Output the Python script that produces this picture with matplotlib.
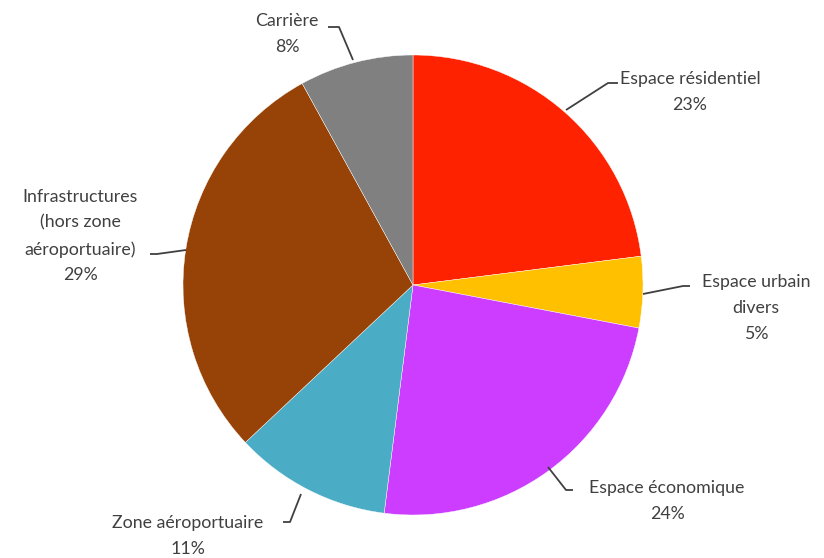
import matplotlib
matplotlib.use("Agg")
import matplotlib.pyplot as plt

categories = ["Espace résidentiel", "Espace urbain\ndivers", "Espace économique",
              "Zone aéroportuaire", "Infrastructures\n(hors zone\naéroportuaire)", "Carrière"]
values = [23, 5, 24, 11, 29, 8]
colors = ["#FF2200", "#FFC000", "#CC3DFF", "#4BACC6", "#974206", "#808080"]

W, H = 824, 558
CX, CY, R = 413, 285, 230

plt.rcParams['font.family'] = ['Lato', 'DejaVu Sans']
fig = plt.figure(figsize=(W / 100, H / 100), dpi=100)
ax = fig.add_axes([0, 0, 1, 1])

ax.pie(values, colors=colors, startangle=90, counterclock=False, radius=1,
       center=(0, 0), wedgeprops=dict(linewidth=0.3, edgecolor='white'))

ax.set_xlim(-CX / R, (W - CX) / R)
ax.set_ylim(-(H - CY) / R, CY / R)
ax.set_aspect('equal')
ax.axis('off')

def p(x, y):
    return ((x - CX) / R, (CY - y) / R)

# label text centers (pixels) and leader line polylines (pixels)
label_pos = [(690, 92), (756, 308), (667, 501), (188, 536), (80, 236), (287, 34)]
leaders = [
    [(566, 110), (608, 83), (618, 83)],
    [(643, 294), (683, 286), (690, 286)],
    [(548, 467), (566, 490), (573, 490)],
    [(301, 494), (290, 522), (283, 522)],
    [(186, 250), (157, 254), (150, 254)],
    [(353, 60), (339, 27), (328, 27)],
]

for cat, v, (lx, ly), line in zip(categories, values, label_pos, leaders):
    pts = [p(x, y) for x, y in line]
    ax.plot([a for a, b in pts], [b for a, b in pts], color='#404040', lw=1.3,
            solid_capstyle='butt')
    ax.text(*p(lx, ly), f"{cat}\n{v}%", ha='center', va='center', fontsize=12.8,
            color='#404040', linespacing=1.76)

fig.savefig("out.png", dpi=100)
